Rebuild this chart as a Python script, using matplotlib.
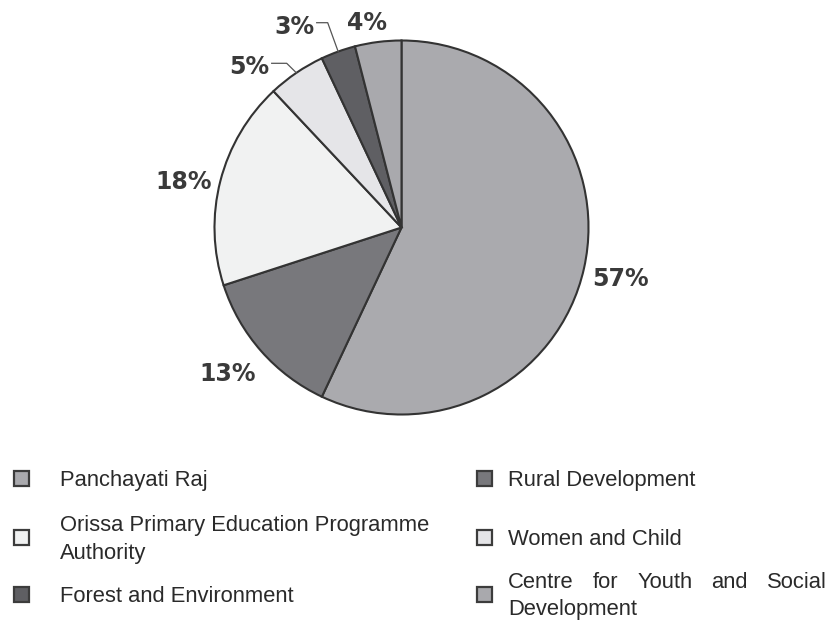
import numpy as np
import matplotlib.pyplot as plt
from matplotlib.patches import Rectangle

# department shares (percent)
departments = [
    "Panchayati Raj",
    "Rural Development",
    "Orissa Primary Education Programme\nAuthority",
    "Women and Child",
    "Forest and Environment",
    "Centre for Youth and Social\nDevelopment",
]
shares = [57, 13, 18, 5, 3, 4]
colors = ["#aaaaae", "#78787c", "#f1f2f2", "#e5e5e8", "#5f5f63", "#a9a9ad"]

W, H = 832, 625
fig = plt.figure(figsize=(W / 100, H / 100), dpi=100)

# pie centre and radius in pixels
cx, cy, r = 401.5, 227.5, 187
ax = fig.add_axes([(cx - r) / W, (H - cy - r) / H, 2 * r / W, 2 * r / H])
wedges, _ = ax.pie(shares, colors=colors, startangle=90, counterclock=False,
                   radius=1, wedgeprops=dict(edgecolor="#333333", linewidth=1.5))
ax.set_xlim(-1, 1)
ax.set_ylim(-1, 1)
ax.axis("off")

# overlay axes in pixel coordinates for labels and legend
ov = fig.add_axes([0, 0, 1, 1])
ov.set_xlim(0, W)
ov.set_ylim(H, 0)
ov.axis("off")

def to_px(x, y):
    return cx + x * r, cy - y * r

label_pos = [(621, 277), (228, 372.5), (183.5, 180), (249, 65.5), (294, 25), (366.5, 21.5)]
for val, (lx, ly) in zip(shares, label_pos):
    ov.text(lx, ly + 8.6, f"{val}%", ha="center", va="baseline",
            fontsize=17, fontweight="bold", family="DejaVu Sans", color="#3a3a3a")

# leader lines for the two thin slices
leaders = {3: [(271.7, 63.3), (286.7, 63.3)], 4: [(316.7, 22.7), (327.7, 22.7)]}
for i, pts in leaders.items():
    w = wedges[i]
    mid = np.deg2rad((w.theta1 + w.theta2) / 2)
    ex, ey = to_px(np.cos(mid), np.sin(mid))
    xs = [p[0] for p in pts] + [ex]
    ys = [p[1] for p in pts] + [ey]
    ov.plot(xs, ys, color="#555555", linewidth=0.9)

# legend
fs = 15.8
lh = 27
row_y = [478, 478, 537, 537, 594, 594]
marker_x = [21.5, 484.5]
text_x = [60, 508]
justify_to = {5: 827}

renderer = fig.canvas.get_renderer()

def justified_line(x0, x1, y, line):
    words = line.split()
    items = [ov.text(0, y, wd, ha="left", va="baseline", fontsize=fs,
                     family="Liberation Sans", color="#2a2a2a") for wd in words]
    widths = [t.get_window_extent(renderer).width for t in items]
    gap = (x1 - x0 - sum(widths)) / (len(words) - 1)
    x = x0
    for t, wd in zip(items, widths):
        t.set_x(x)
        x += wd + gap

for i, (name, col) in enumerate(zip(departments, colors)):
    c = i % 2
    yc = row_y[i]
    ov.add_patch(Rectangle((marker_x[c] - 7.5, yc - 7.5), 15, 15, facecolor=col,
                           edgecolor="#3c3c3c", linewidth=1.6))
    lines = name.split("\n")
    y0 = yc - (len(lines) - 1) * lh / 2 + 8
    for k, line in enumerate(lines):
        y = y0 + k * lh
        if k == 0 and i in justify_to and len(lines) > 1:
            justified_line(text_x[c], justify_to[i], y, line)
        else:
            ov.text(text_x[c], y, line, ha="left", va="baseline", fontsize=fs,
                    family="Liberation Sans", color="#2a2a2a")

fig.savefig("out.png", dpi=100)
